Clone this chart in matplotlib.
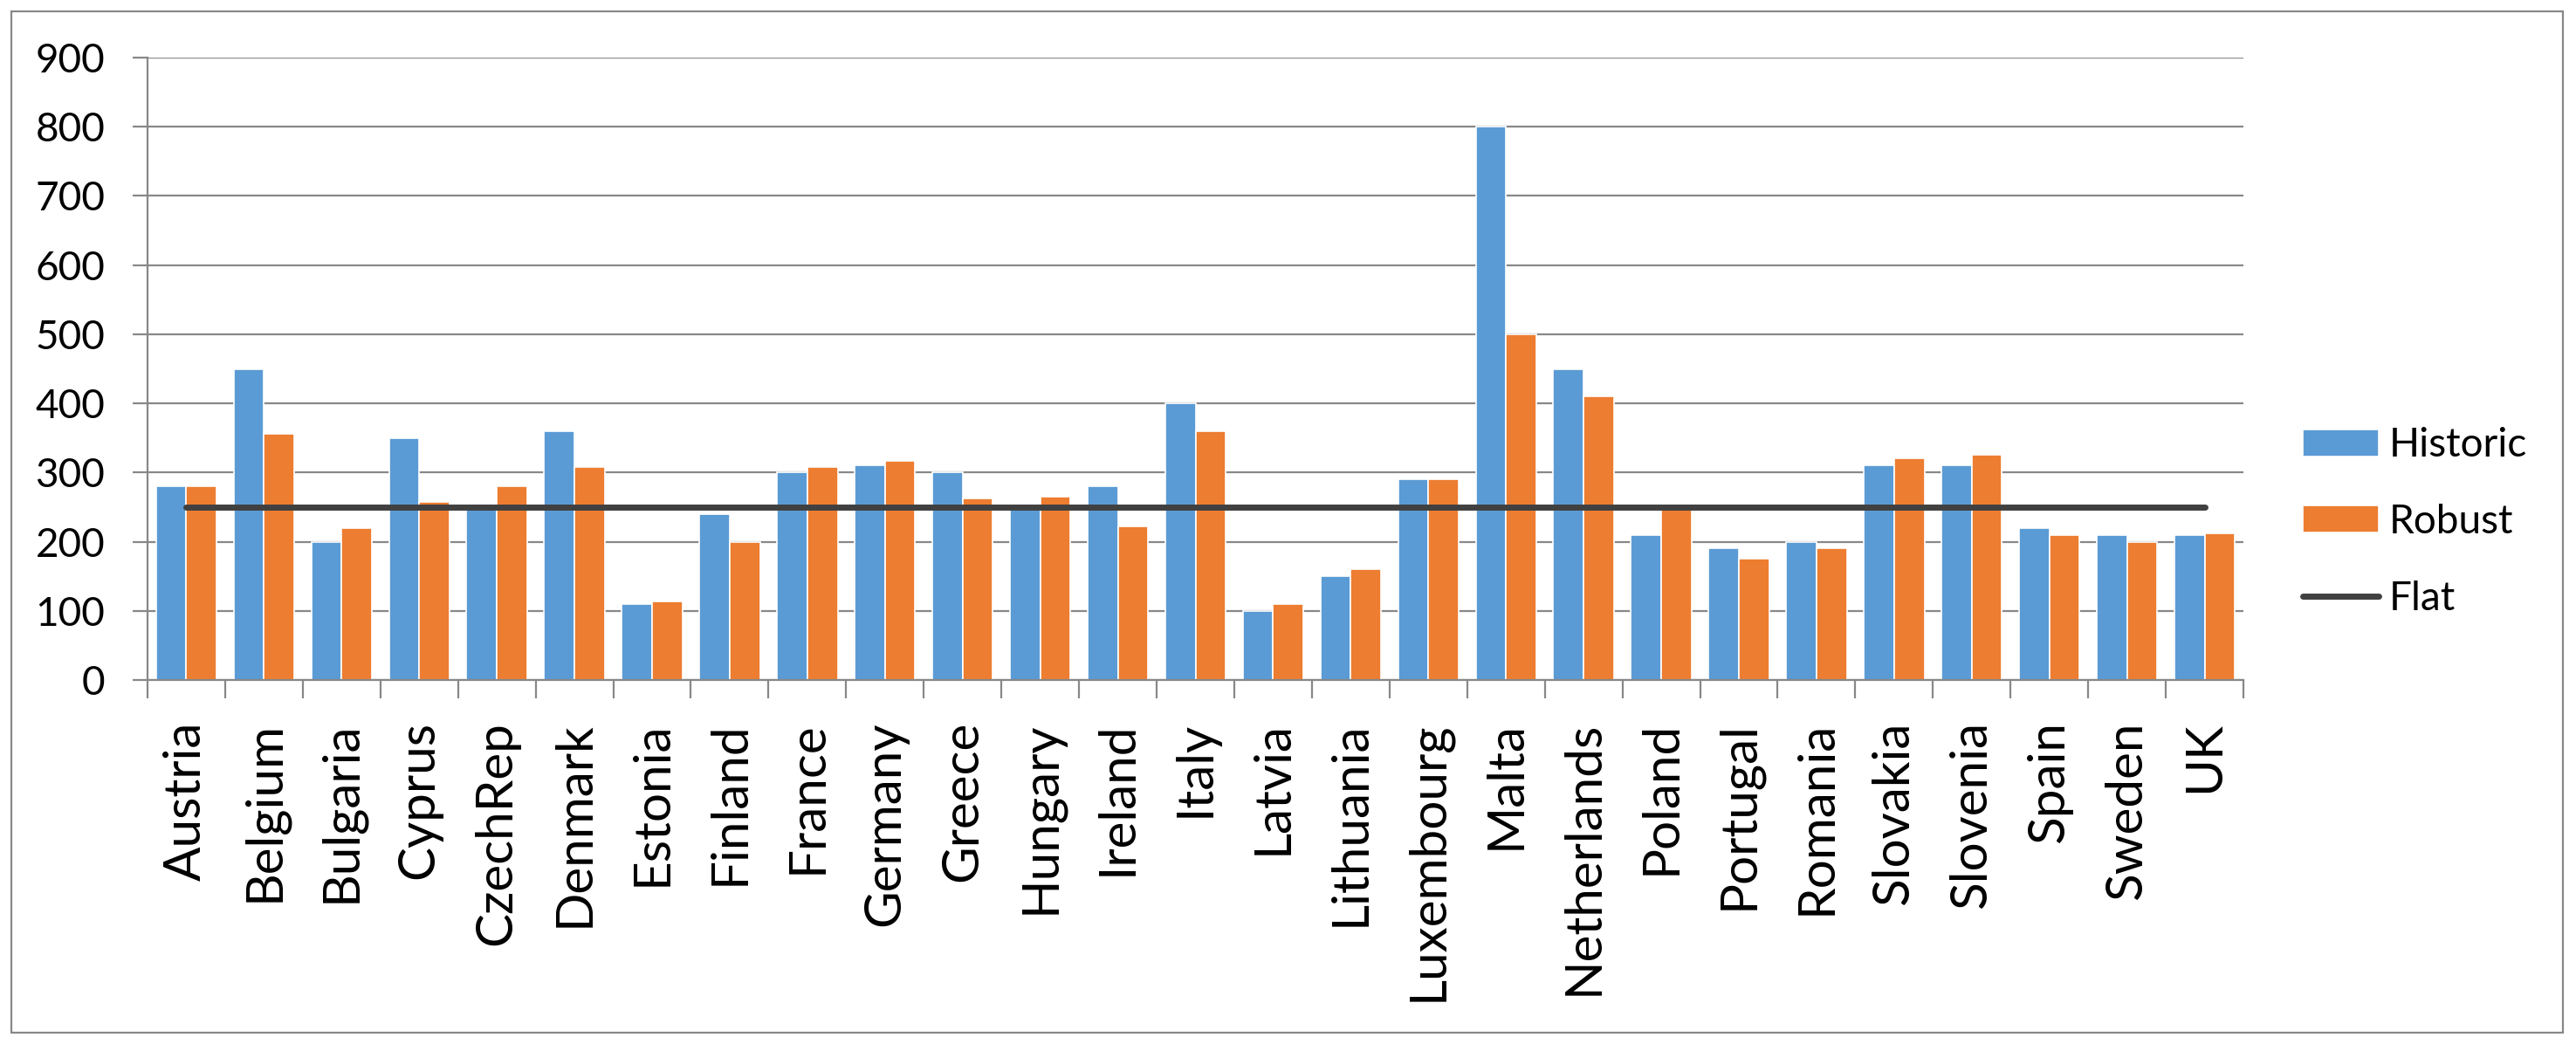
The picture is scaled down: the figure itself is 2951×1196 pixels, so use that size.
import matplotlib

matplotlib.use("Agg")
import matplotlib.pyplot as plt
from matplotlib.patches import Rectangle

countries = [
    "Austria", "Belgium", "Bulgaria", "Cyprus", "CzechRep", "Denmark",
    "Estonia", "Finland", "France", "Germany", "Greece", "Hungary",
    "Ireland", "Italy", "Latvia", "Lithuania", "Luxembourg", "Malta",
    "Netherlands", "Poland", "Portugal", "Romania", "Slovakia", "Slovenia",
    "Spain", "Sweden", "UK",
]
historic = [
    280, 450, 200, 350, 250, 360, 110, 240, 300, 310, 300, 250, 280, 400,
    100, 150, 290, 800, 450, 210, 190, 200, 310, 310, 220, 210, 210,
]
robust = [
    280, 356, 220, 258, 280, 308, 114, 200, 308, 317, 263, 265, 222, 360,
    110, 160, 290, 500, 410, 250, 176, 190, 320, 326, 210, 200, 212,
]
flat = [
    250, 250, 250, 250, 250, 250, 250, 250, 250, 250, 250, 250, 250, 250,
    250, 250, 250, 250, 250, 250, 250, 250, 250, 250, 250, 250, 250,
]
y_ticks = [0, 100, 200, 300, 400, 500, 600, 700, 800, 900]

BLUE = "#5B9BD5"
ORANGE = "#ED7D31"
DARK = "#404040"
GRID = "#888888"

plt.rcParams["font.family"] = ["Lato", "DejaVu Sans"]

W, H = 2951, 1196
fig = plt.figure(figsize=(W / 100, H / 100), dpi=100)
ax = fig.add_axes([169 / W, 1 - 779 / H, (2570 - 169) / W, (779 - 66) / H])

x = list(range(len(countries)))
bar_w = 0.39
bars_h = ax.bar([i - bar_w / 2 for i in x], historic, width=bar_w,
                color=BLUE, edgecolor="white", linewidth=1.2,
                label="Historic", zorder=2)
bars_r = ax.bar([i + bar_w / 2 for i in x], robust, width=bar_w,
                color=ORANGE, edgecolor="white", linewidth=1.2,
                label="Robust", zorder=2)
(flat_line,) = ax.plot(x, flat, color=DARK, linewidth=5,
                       solid_capstyle="round", label="Flat", zorder=3)

ax.set_xlim(-0.5, len(countries) - 0.5)
ax.set_ylim(0, 900)
ax.set_yticks(y_ticks)
ax.set_yticklabels([str(v) for v in y_ticks], fontsize=33)
ax.yaxis.grid(True, color=GRID, linewidth=1.6, zorder=0)
ax.set_axisbelow(True)

ax.set_xticks(x)
ax.set_xticklabels(countries, rotation=90, fontsize=42)
ax.set_xticks([i - 0.5 for i in range(len(countries) + 1)], minor=True)
ax.tick_params(axis="x", which="major", length=0, pad=34)
ax.tick_params(axis="x", which="minor", length=15, width=1.6, color=GRID)
ax.tick_params(axis="y", length=12, width=1.6, color=GRID, pad=23)

for side in ("top", "right"):
    ax.spines[side].set_visible(False)
for side in ("left", "bottom"):
    ax.spines[side].set_color(GRID)
    ax.spines[side].set_linewidth(1.6)

ax.legend(
    handles=[bars_h, bars_r, flat_line],
    labels=["Historic", "Robust", "Flat"],
    loc="center left",
    bbox_to_anchor=(2638 / W, 1 - 598 / H),
    bbox_transform=fig.transFigure,
    frameon=False,
    fontsize=33,
    borderpad=0,
    borderaxespad=0,
    handlelength=1.9,
    handleheight=0.66,
    handletextpad=0.25,
    labelspacing=1.0,
)

fig.patches.append(
    Rectangle((13 / W, 1 - 1183 / H), (2936 - 13) / W, (1183 - 13) / H,
              transform=fig.transFigure, fill=False, edgecolor=GRID,
              linewidth=1.6)
)

fig.savefig("out.png", dpi=100)
